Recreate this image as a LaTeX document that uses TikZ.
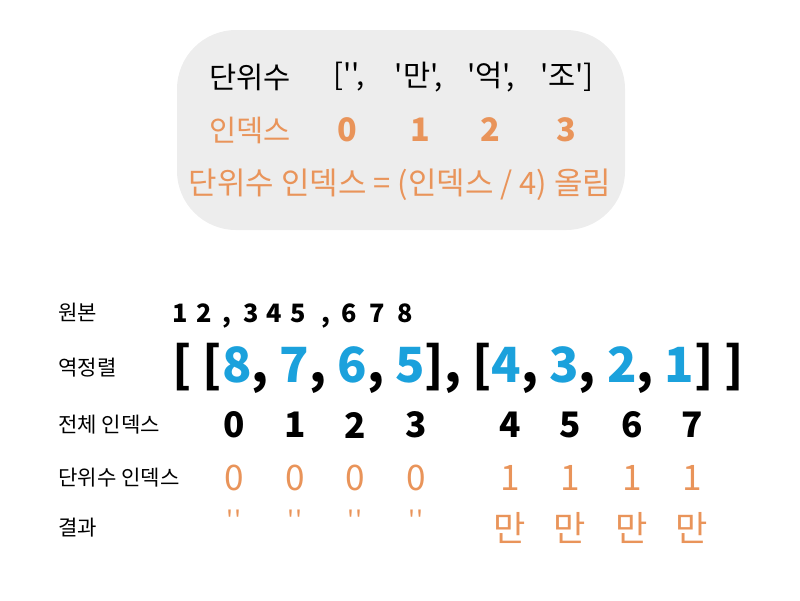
\documentclass[tikz,border=0pt]{standalone}
\usepackage{fontspec}
\setmainfont{Noto Sans CJK KR}
\newfontfamily\plainkr{Noto Sans CJK KR}
\usepackage{tikz}
\usetikzlibrary{positioning}
\definecolor{unitorange}{HTML}{E9945A}
\definecolor{revblue}{HTML}{1BA1DC}
\definecolor{boxgray}{HTML}{EDEDED}
\tikzstyle{panel}     = [fill=boxgray, rounded corners=42pt]
\tikzstyle{head}      = [font=\fontsize{21}{24}\selectfont\plainkr, inner sep=0pt]
\tikzstyle{headnum}   = [font=\fontsize{23}{26}\selectfont\bfseries, text=unitorange, inner sep=0pt]
\tikzstyle{rowlabel}  = [font=\fontsize{15}{18}\selectfont, anchor=west, inner sep=0pt]
\tikzstyle{orignum}   = [font=\fontsize{18}{20}\selectfont\bfseries, anchor=base, inner sep=0pt]
\tikzstyle{idx}       = [font=\fontsize{25}{28}\selectfont\bfseries, inner sep=0pt]
\tikzstyle{unit}      = [font=\fontsize{25}{28}\selectfont\plainkr, text=unitorange, inner sep=0pt]
\newcommand{\bl}[1]{{\color{revblue}#1}}
\begin{document}
\begin{tikzpicture}[x=0.025cm,y=-0.025cm]
        \useasboundingbox (0,0) rectangle (800,600);
        % unit table
        \fill[panel] (177,30) rectangle (625,230);
        \node[head] (unitlbl) at (250,77) {단위수};
        \node[head] (u0) at (349,77) {['',};
        \node[head] (u1) at (419,77) {'만',};
        \node[head] (u2) at (491,77) {'억',};
        \node[head] (u3) at (567,77) {'조']};
        \node[head, text=unitorange] (idxlbl) at (250,130) {인덱스};
        \node[headnum] (i0) at (347,130) {0};
        \node[headnum] (i1) at (420,130) {1};
        \node[headnum] (i2) at (490,130) {2};
        \node[headnum] (i3) at (566,130) {3};
        \node[head, text=unitorange, font=\fontsize{22}{25}\selectfont\plainkr] (rule) at (400,185) {단위수 인덱스 = (인덱스 / 4) 올림};

        % rows
        \node[rowlabel] (orig) at (58,312) {원본};
        \node[rowlabel] (rev) at (58,368) {역정렬};
        \node[rowlabel] (all) at (58,425) {전체 인덱스};
        \node[rowlabel] (unitidx) at (58,478) {단위수 인덱스};
        \node[rowlabel] (result) at (58,528) {결과};

        \foreach \c/\x [count=\k] in {1/180,2/204,{,}/227,3/251,4/274,5/298,{,}/326,6/349,7/377,8/405}
            \node[orignum] (origval\k) at (\x,322) {\c};
        \node[font=\fontsize{34.5}{38}\selectfont\bfseries, anchor=west, inner sep=0pt] (revval) at (172,368)
            {[ [\bl{8}, \bl{7}, \bl{6}, \bl{5}], [\bl{4}, \bl{3}, \bl{2}, \bl{1}] ]};

        \foreach \n/\x in {0/234,1/295,2/355,3/416,4/510,5/570,6/632,7/692}
            \node[idx] (all\n) at (\x,425) {\n};
        \foreach \n/\x in {0/234,1/295,2/355,3/416}
            \node[unit] (ui\n) at (\x,478) {0};
        \foreach \n/\x in {4/510,5/570,6/632,7/692}
            \node[unit] (ui\n) at (\x,478) {1};
        \foreach \n/\x in {0/234,1/295,2/355,3/416}
            \node[unit, font=\fontsize{18}{20}\selectfont\plainkr] (res\n) at (\x,520) {''};
        \foreach \n/\x in {4/510,5/570,6/632,7/692}
            \node[unit] (res\n) at (\x,528) {만};
\end{tikzpicture}
\end{document}
